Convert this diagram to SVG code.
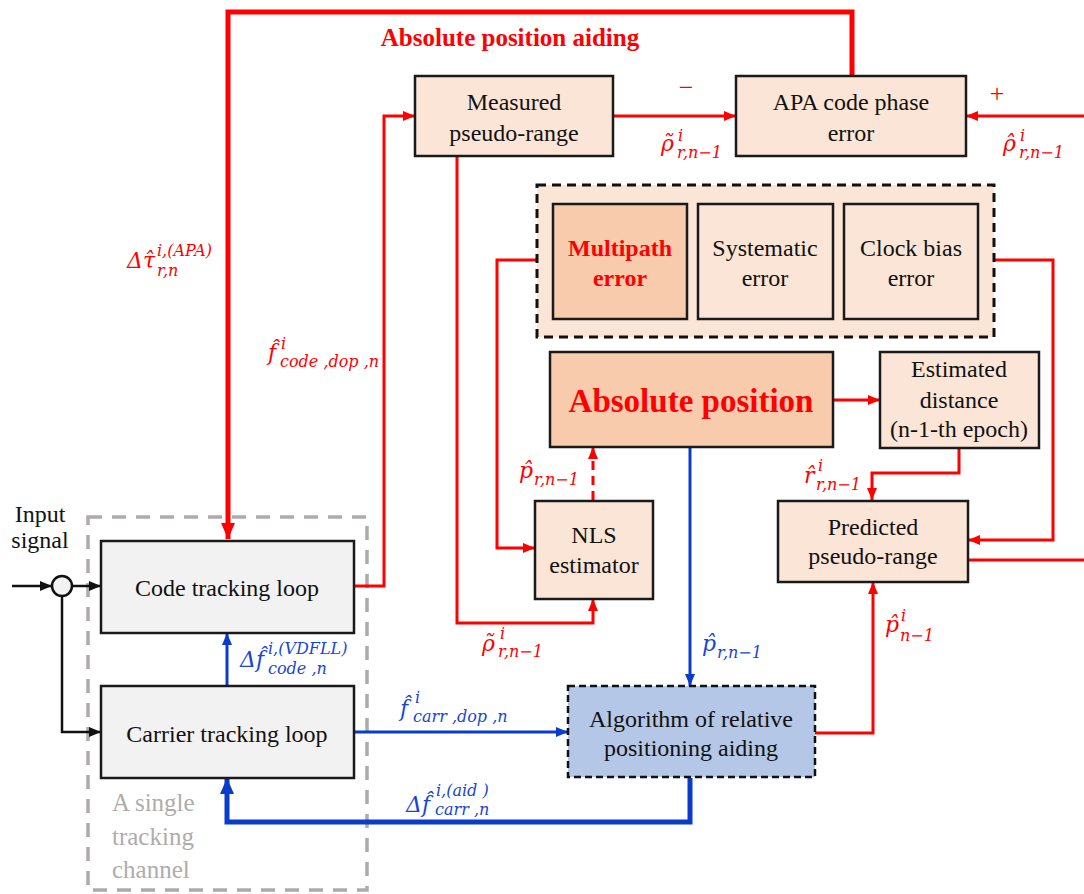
<svg xmlns="http://www.w3.org/2000/svg" width="1084" height="894" viewBox="0 0 1084 894">
<style>
.box{stroke:#1a1a1a;stroke-width:2.5}
.pe{fill:#FBE5D6}
.pe2{fill:#F8CBAD}
.gr{fill:#F2F2F2}
.t{font-family:"Liberation Serif","Tinos","Times New Roman","Nimbus Roman","FreeSerif","Noto Serif","DejaVu Serif",serif;font-size:24px;fill:#111;text-anchor:middle}
.tb{font-family:"Liberation Serif","Tinos","Times New Roman","Nimbus Roman","FreeSerif","Noto Serif","DejaVu Serif",serif;font-weight:bold;fill:#FF0000;text-anchor:middle}
.gt{font-family:"Liberation Serif","Tinos","Times New Roman","Nimbus Roman","FreeSerif","Noto Serif","DejaVu Serif",serif;font-size:25px;fill:#AFABAB}
.m{font-family:"DejaVu Serif","Liberation Serif",serif;font-style:italic;font-size:22px}
.s{font-family:"DejaVu Serif","Liberation Serif",serif;font-style:italic;font-size:16px}
.r{fill:#FF0000}
.b{fill:#1747D2}
.cr{fill:none;stroke:#FF0000;stroke-width:3}
.cb{fill:none;stroke:#0A3BCB;stroke-width:3}
.ck{fill:none;stroke:#111;stroke-width:2.5}
.thick{stroke-width:5}
</style>
<defs>
<marker id="ar" markerUnits="userSpaceOnUse" markerWidth="12" markerHeight="10" refX="12" refY="5" orient="auto"><path d="M0,0 L12,5 L0,10 z" fill="#FF0000"/></marker>
<marker id="arL" markerUnits="userSpaceOnUse" markerWidth="16" markerHeight="14" refX="16" refY="7" orient="auto"><path d="M0,0 L16,7 L0,14 z" fill="#FF0000"/></marker>
<marker id="ab" markerUnits="userSpaceOnUse" markerWidth="12" markerHeight="10" refX="12" refY="5" orient="auto"><path d="M0,0 L12,5 L0,10 z" fill="#0A3BCB"/></marker>
<marker id="abL" markerUnits="userSpaceOnUse" markerWidth="16" markerHeight="14" refX="16" refY="7" orient="auto"><path d="M0,0 L16,7 L0,14 z" fill="#0A3BCB"/></marker>
<marker id="ak" markerUnits="userSpaceOnUse" markerWidth="12" markerHeight="10" refX="12" refY="5" orient="auto"><path d="M0,0 L12,5 L0,10 z" fill="#111"/></marker>
</defs>
<rect width="1084" height="894" fill="#fff"/>

<g id="channel-frame">
<rect x="88" y="517" width="279" height="373" fill="none" stroke="#AFABAB" stroke-width="3.5" stroke-dasharray="14 10"/>
<text x="112" y="811" class="gt">A single</text>
<text x="112" y="845" class="gt">tracking</text>
<text x="112" y="878" class="gt">channel</text>
</g>

<g id="connectors">
<path class="cr thick" d="M852,76 V12 H228 V539" marker-end="url(#arL)"/>
<path class="cr" d="M355,586 H384 V116 H415" marker-end="url(#ar)"/>
<path class="cr" d="M613,116 H736" marker-end="url(#ar)"/>
<path class="cr" d="M1084,116 H966" marker-end="url(#ar)"/>
<path class="cr" d="M457,156 V623 H593 V599" marker-end="url(#ar)"/>
<path class="cr" d="M537,260 H497 V548 H535" marker-end="url(#ar)"/>
<path class="cr" d="M994,260 H1053 V540 H968" marker-end="url(#ar)"/>
<path class="cr" d="M968,560 H1084"/>
<path class="cr" d="M833,400 H880" marker-end="url(#ar)"/>
<path class="cr" d="M959,448 V473 H872 V500" marker-end="url(#ar)"/>
<path class="cr" d="M593,500 V447" stroke-dasharray="9 6" marker-end="url(#ar)"/>
<path class="cr" d="M815,733 H873 V582" marker-end="url(#ar)"/>
<path class="cb" d="M690,447 V686" marker-end="url(#ab)"/>
<path class="cb" d="M355,732 H568" marker-end="url(#ab)"/>
<path class="cb thick" d="M690,778 V822 H227 V778" marker-end="url(#abL)"/>
<path class="cb" d="M227,686 V633" marker-end="url(#ab)"/>
<path class="ck" d="M12,586 H52" marker-end="url(#ak)"/>
<path class="ck" d="M72,586 H101" marker-end="url(#ak)"/>
<path class="ck" d="M62,596 V732 H101" marker-end="url(#ak)"/>
</g>

<g id="input">
<text x="40" y="522" class="t">Input</text>
<text x="40" y="548" class="t">signal</text>
<circle cx="62" cy="586" r="10" fill="#F2F2F2" stroke="#111" stroke-width="2.5"/>
</g>

<g id="title"><text x="510" y="46" class="tb" font-size="25">Absolute position aiding</text></g>

<g id="measured"><rect x="415" y="76" width="198" height="80" class="box pe"/>
<text x="514" y="110" class="t">Measured</text><text x="514" y="141" class="t">pseudo-range</text></g>

<g id="apa"><rect x="736" y="76" width="230" height="80" class="box pe"/>
<text x="851" y="110" class="t">APA code phase</text><text x="851" y="141" class="t">error</text></g>

<g id="errors"><rect x="537" y="185" width="457" height="152" class="pe" stroke="#111" stroke-width="3" stroke-dasharray="9 6"/></g>
<g id="multipath"><rect x="553" y="204" width="134" height="115" class="box pe2"/>
<text x="620" y="256" class="tb" font-size="24">Multipath</text><text x="620" y="286" class="tb" font-size="24">error</text></g>
<g id="systematic"><rect x="698" y="204" width="135" height="115" class="box pe"/>
<text x="765" y="256" class="t">Systematic</text><text x="765" y="286" class="t">error</text></g>
<g id="clock"><rect x="844" y="204" width="134" height="115" class="box pe"/>
<text x="911" y="256" class="t">Clock bias</text><text x="911" y="286" class="t">error</text></g>

<g id="abspos"><rect x="550" y="352" width="283" height="95" class="box pe2"/>
<text x="691" y="412" class="tb" font-size="33">Absolute position</text></g>

<g id="estimated"><rect x="880" y="352" width="159" height="96" class="box pe"/>
<text x="959" y="377" class="t">Estimated</text><text x="959" y="408" class="t">distance</text><text x="959" y="437" class="t">(n-1-th epoch)</text></g>

<g id="predicted"><rect x="778" y="501" width="190" height="81" class="box pe"/>
<text x="873" y="535" class="t">Predicted</text><text x="873" y="564" class="t">pseudo-range</text></g>

<g id="nls"><rect x="535" y="501" width="118" height="98" class="box pe"/>
<text x="594" y="543" class="t">NLS</text><text x="594" y="573" class="t">estimator</text></g>

<g id="algorithm"><rect x="568" y="686" width="247" height="91" fill="#B4C7E7" stroke="#111" stroke-width="2.5" stroke-dasharray="7 4"/>
<text x="691" y="727" class="t">Algorithm of relative</text><text x="691" y="756" class="t">positioning aiding</text></g>

<g id="code"><rect x="101" y="541" width="253" height="92" class="box gr"/>
<text x="227" y="596" class="t">Code tracking loop</text></g>

<g id="carrier"><rect x="101" y="686" width="253" height="92" class="box gr"/>
<text x="227" y="742" class="t">Carrier tracking loop</text></g>

<g id="labels">
<text x="686" y="96" class="r" font-family="Liberation Serif,DejaVu Serif,serif" font-size="26" text-anchor="middle">−</text>
<text x="997" y="102" class="r" font-family="Liberation Serif,DejaVu Serif,serif" font-size="26" text-anchor="middle">+</text>

<g class="r">
<text x="127" y="268" class="m">Δτ̂</text>
<text x="157" y="256" class="s">i,(APA)</text><text x="157" y="276" class="s">r,n</text>

<text x="268" y="360" class="m">f̂</text>
<text x="281" y="349" class="s">i</text><text x="280" y="367" class="s">code ,dop ,n</text>

<text x="661" y="151" class="m">ρ̃</text>
<text x="678" y="141" class="s">i</text><text x="677" y="158" class="s">r,n−1</text>

<text x="1003" y="151" class="m">ρ̂</text>
<text x="1020" y="141" class="s">i</text><text x="1019" y="158" class="s">r,n−1</text>

<text x="804" y="483" class="m">r̂</text>
<text x="818" y="471" class="s">i</text><text x="816" y="490" class="s">r,n−1</text>

<text x="885" y="632" class="m">p̂</text>
<text x="901" y="621" class="s">i</text><text x="900" y="641" class="s">n−1</text>

<text x="519" y="478" class="m">p̂</text>
<text x="534" y="485" class="s">r,n−1</text>

<text x="482" y="651" class="m">ρ̃</text>
<text x="500" y="639" class="s">i</text><text x="498" y="657" class="s">r,n−1</text>
</g>

<g class="b">
<text x="702" y="651" class="m">p̂</text>
<text x="717" y="658" class="s">r,n−1</text>

<text x="400" y="716" class="m">f̂</text>
<text x="415" y="703" class="s">i</text><text x="413" y="722" class="s">carr ,dop ,n</text>

<text x="406" y="812" class="m">Δf̂</text>
<text x="436" y="796" class="s">i,(aid )</text><text x="435" y="815" class="s">carr ,n</text>

<text x="240" y="667" class="m">Δf̂</text>
<text x="268" y="654" class="s">i,(VDFLL)</text><text x="268" y="674" class="s">code ,n</text>
</g>
</g>
</svg>
